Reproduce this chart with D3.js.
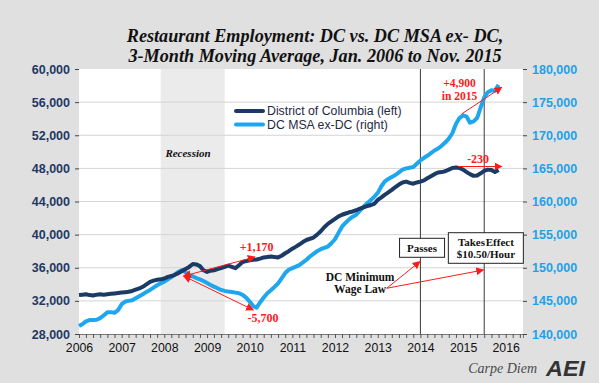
<!DOCTYPE html>
<html>
<head>
<meta charset="utf-8">
<script src="https://cdn.jsdelivr.net/npm/d3@7"></script>
<style>
  body { margin: 0; background: #e0e0e0; }
  svg { display: block; }
</style>
</head>
<body>
<svg id="chart" width="599" height="383"></svg>
<script>
// monthly, Jan 2006 .. Nov 2015
const months = d3.timeMonth.range(new Date(2006, 0, 1), new Date(2015, 11, 1));

const dcValues = [
  32700, 32750, 32800, 32700, 32650, 32750, 32800, 32750, 32800, 32850, 32900, 32950, // 2006
  33000, 33050, 33100, 33200, 33350, 33500, 33700, 34000, 34300, 34450, 34550, 34600, // 2007
  34700, 34900, 35000, 35150, 35350, 35600, 35850, 36100, 36450, 36400, 36200, 35700, // 2008
  35500, 35650, 35700, 35850, 35950, 36100, 36250, 36100, 35950, 36300, 36700, 36800, // 2009
  36900, 36950, 37000, 37100, 37250, 37300, 37350, 37300, 37250, 37450, 37750, 38000, // 2010
  38300, 38550, 38800, 39100, 39350, 39500, 39650, 40000, 40400, 40900, 41300, 41600, // 2011
  41900, 42200, 42400, 42550, 42700, 42800, 42950, 43150, 43300, 43450, 43550, 43700, // 2012
  44200, 44500, 44800, 45100, 45400, 45750, 46050, 46300, 46400, 46250, 46150, 46300, // 2013
  46400, 46550, 46800, 47050, 47300, 47500, 47550, 47650, 47850, 48050, 48100, 48050, // 2014
  47850, 47550, 47300, 47100, 47150, 47400, 47700, 47850, 47800, 47550, 47800         // 2015
];

const msaValues = [
  141200, 141500, 141900, 142100, 142100, 142150, 142400, 142800, 143300, 143300, 143200, 143600, // 2006
  144500, 144900, 145000, 145100, 145400, 145700, 146000, 146350, 146650, 147000, 147350, 147650, // 2007
  147900, 148250, 148600, 149000, 149400, 149650, 149300, 148900, 148700, 148450, 148250, 148000, // 2008
  147700, 147400, 147150, 146900, 146650, 146500, 146400, 146350, 146250, 146150, 145900, 145500, // 2009
  144900, 144200, 143970, 144800, 145500, 146150, 146600, 147100, 147650, 148400, 149200, 149700, // 2010
  149950, 150170, 150400, 150800, 151200, 151700, 152100, 152500, 152800, 153000, 153200, 153700, // 2011
  154300, 155300, 156200, 156800, 157300, 157700, 158000, 158600, 159200, 159700, 160200, 160700, // 2012
  161300, 162300, 163000, 163400, 163700, 164000, 164400, 164800, 165000, 165100, 165200, 165700, // 2013
  166200, 166600, 166900, 167300, 167700, 168000, 168400, 168900, 169500, 170300, 171700, 172600, // 2014
  173000, 172800, 171900, 172100, 172600, 174200, 175700, 176500, 176800, 176700, 177600          // 2015
];

const leftTicks = [28000, 32000, 36000, 40000, 44000, 48000, 52000, 56000, 60000];
const rightTicks = [140000, 145000, 150000, 155000, 160000, 165000, 170000, 175000, 180000];
const recession = [new Date(2007, 11, 1), new Date(2009, 5, 1)];
const lawDates = [new Date(2014, 0, 1), new Date(2015, 6, 1)];
const seriesNames = ['District of Columbia (left)', 'DC MSA ex-DC (right)'];

const dcColor = '#1b3a66', msaColor = '#1ea6ef', red = '#ff1a1a';
const serif = "Georgia, 'Liberation Serif', serif";
const sans = "Arial, 'Liberation Sans', sans-serif";

const margin = { top: 69, right: 76, bottom: 49, left: 79 };
const W = 599, H = 383;
const svg = d3.select('#chart');

const x = d3.scaleTime()
  .domain([new Date(2006, 0, 1), new Date(2016, 4, 28)])
  .range([margin.left, W - margin.right]);
const yL = d3.scaleLinear().domain([28000, 60000]).range([H - margin.bottom, margin.top]);
const yR = d3.scaleLinear().domain([140000, 180000]).range([H - margin.bottom, margin.top]);

// title
svg.append('text')
  .attr('x', 315).attr('y', 0)
  .attr('text-anchor', 'middle')
  .style('font-family', serif).style('font-weight', 'bold').style('font-style', 'italic')
  .style('font-size', '18.2px').attr('fill', '#111')
  .selectAll('tspan')
  .data(['Restaurant Employment: DC vs. DC MSA ex- DC,', '3-Month Moving Average, Jan. 2006 to Nov. 2015'])
  .join('tspan')
  .attr('x', 315).attr('y', (d, i) => 42 + i * 20)
  .text(d => d);

// plot background
svg.append('rect')
  .attr('x', margin.left).attr('y', margin.top)
  .attr('width', W - margin.left - margin.right)
  .attr('height', H - margin.top - margin.bottom)
  .attr('fill', '#fff');

svg.append('rect')
  .attr('x', x(recession[0])).attr('y', margin.top)
  .attr('width', x(recession[1]) - x(recession[0]))
  .attr('height', H - margin.top - margin.bottom)
  .attr('fill', '#ebebeb');

// gridlines
svg.append('g')
  .selectAll('line')
  .data(leftTicks.slice(1, -1))
  .join('line')
  .attr('x1', margin.left).attr('x2', W - margin.right)
  .attr('y1', d => yL(d)).attr('y2', d => yL(d))
  .attr('stroke', '#d4d4d4').attr('stroke-width', 1);

// law lines
svg.append('g')
  .selectAll('line')
  .data(lawDates)
  .join('line')
  .attr('x1', d => x(d)).attr('x2', d => x(d))
  .attr('y1', margin.top).attr('y2', H - margin.bottom)
  .attr('stroke', '#3a3a3a').attr('stroke-width', 1);

// axes
const xAxis = svg.append('g')
  .attr('transform', `translate(0,${H - margin.bottom})`)
  .call(d3.axisBottom(x)
    .tickValues(d3.timeMonth.every(2).range(new Date(2006, 0, 1), new Date(2016, 5, 1)))
    .tickSize(4).tickPadding(5)
    .tickFormat(d => d.getMonth() === 0 ? d.getFullYear() : ''));
xAxis.select('.domain').attr('stroke', '#7a7a7a');
xAxis.selectAll('.tick line').attr('stroke', '#555');
xAxis.selectAll('text').style('font-family', sans).style('font-size', '12.3px').attr('fill', '#111');

const leftAxis = svg.append('g')
  .attr('transform', `translate(${margin.left},0)`)
  .call(d3.axisLeft(yL).tickValues(leftTicks).tickFormat(d3.format(',')).tickSize(4).tickPadding(5));
leftAxis.select('.domain').remove();
leftAxis.selectAll('.tick line').attr('stroke', '#444');
leftAxis.selectAll('text').style('font-family', sans).style('font-size', '12.5px')
  .style('font-weight', 'bold').attr('fill', '#1f3864');

const rightAxis = svg.append('g')
  .attr('transform', `translate(${W - margin.right},0)`)
  .call(d3.axisRight(yR).tickValues(rightTicks).tickFormat(d3.format(',')).tickSize(4).tickPadding(5));
rightAxis.select('.domain').remove();
rightAxis.selectAll('.tick line').attr('stroke', '#444');
rightAxis.selectAll('text').style('font-family', sans).style('font-size', '12.5px')
  .style('font-weight', 'bold').attr('fill', '#1da1ea');

// series
const lineL = d3.line().x((d, i) => x(months[i])).y(d => yL(d));
const lineR = d3.line().x((d, i) => x(months[i])).y(d => yR(d));

svg.append('path').datum(msaValues)
  .attr('d', lineR).attr('fill', 'none')
  .attr('stroke', msaColor).attr('stroke-width', 4).attr('stroke-linejoin', 'round');
svg.append('path').datum(dcValues)
  .attr('d', lineL).attr('fill', 'none')
  .attr('stroke', dcColor).attr('stroke-width', 4).attr('stroke-linejoin', 'round');

// legend
const legend = svg.append('g').selectAll('g')
  .data(seriesNames)
  .join('g')
  .attr('transform', (d, i) => `translate(236,${111 + i * 13.6})`);
legend.append('line')
  .attr('x1', 0).attr('x2', 27)
  .attr('stroke', (d, i) => i === 0 ? dcColor : msaColor)
  .attr('stroke-width', 4).attr('stroke-linecap', 'round');
legend.append('text')
  .attr('x', 31).attr('dy', '0.35em')
  .style('font-family', sans).style('font-size', '12.3px').attr('fill', '#1f2a44')
  .text(d => d);

// annotations
svg.append('defs').append('marker')
  .attr('id', 'arrow').attr('viewBox', '0 0 10 10')
  .attr('refX', 9).attr('refY', 5)
  .attr('markerWidth', 8).attr('markerHeight', 8)
  .attr('markerUnits', 'userSpaceOnUse')
  .attr('orient', 'auto-start-reverse')
  .append('path').attr('d', 'M0,0 L10,5 L0,10 Z').attr('fill', red);

const pt = (date, v) => [x(new Date(date)), yL(v)];

const arrows = [
  { from: ['2008-06-15', 35000], to: ['2010-02-15', 37300], both: true },
  { from: ['2008-06-15', 35000], to: ['2010-02-01', 30900], both: true },
  { from: ['2014-12-20', 54565], to: ['2015-11-28', 57790] },
  { from: ['2014-11-20', 48226], to: ['2015-11-28', 48226] },
  { from: ['2013-03-18', 33520], to: ['2013-12-29', 36750] },
  { from: ['2013-03-18', 33520], to: ['2015-06-25', 35730] }
];
svg.append('g').selectAll('line')
  .data(arrows)
  .join('line')
  .attr('x1', d => pt(...d.from)[0]).attr('y1', d => pt(...d.from)[1])
  .attr('x2', d => pt(...d.to)[0]).attr('y2', d => pt(...d.to)[1])
  .attr('stroke', red).attr('stroke-width', 1)
  .attr('marker-end', 'url(#arrow)')
  .attr('marker-start', d => d.both ? 'url(#arrow)' : null);

const labels = [
  { at: ['2008-07-22', 49370], text: 'Recession', color: '#111', italic: true, size: 11 },
  { at: ['2010-03-01', 38080], text: '+1,170', color: red, size: 12 },
  { at: ['2010-04-25', 29390], text: '-5,700', color: red, size: 12 },
  { at: ['2014-12-01', 57850], text: '+4,900', color: red, size: 11.5 },
  { at: ['2014-12-01', 56250], text: 'in 2015', color: red, size: 11.5 },
  { at: ['2015-05-10', 48590], text: '-230', color: red, size: 12 },
  { at: ['2012-08-03', 34400], text: 'DC Minimum', color: '#111', size: 11.5 },
  { at: ['2012-08-03', 32950], text: 'Wage Law', color: '#111', size: 11.5 }
];
svg.append('g').selectAll('text')
  .data(labels)
  .join('text')
  .attr('x', d => pt(...d.at)[0]).attr('y', d => pt(...d.at)[1])
  .attr('text-anchor', 'middle')
  .style('font-family', serif).style('font-weight', 'bold')
  .style('font-style', d => d.italic ? 'italic' : 'normal')
  .style('font-size', d => d.size + 'px')
  .attr('fill', d => d.color)
  .text(d => d.text);

const boxes = [
  { at: ['2014-01-15', 38410], w: 45, h: 19, lines: ['Passes'] },
  { at: ['2015-07-15', 38385], w: 75, h: 30.6, lines: ['Takes Effect', '$10.50/Hour'] }
];
const box = svg.append('g').selectAll('g')
  .data(boxes)
  .join('g')
  .attr('transform', d => `translate(${pt(...d.at)[0]},${pt(...d.at)[1]})`);
box.append('rect')
  .attr('x', d => -d.w / 2).attr('y', d => -d.h / 2)
  .attr('width', d => d.w).attr('height', d => d.h)
  .attr('fill', '#fff').attr('stroke', '#222').attr('stroke-width', 1);
box.selectAll('text')
  .data(d => d.lines.map((t, i) => ({ t, i, n: d.lines.length })))
  .join('text')
  .attr('y', d => (d.i - (d.n - 1) / 2) * 11.5)
  .attr('dy', '0.35em')
  .attr('text-anchor', 'middle')
  .style('font-family', serif).style('font-weight', 'bold').style('font-size', '11px')
  .style('word-spacing', '-2px')
  .attr('fill', '#111')
  .text(d => d.t);

// footer
svg.append('text')
  .attr('x', 537).attr('y', 373).attr('text-anchor', 'end')
  .style('font-family', serif).style('font-style', 'italic').style('font-size', '14px')
  .attr('fill', '#4a4a4a')
  .text('Carpe Diem');
svg.append('text')
  .attr('x', 546).attr('y', 376)
  .attr('textLength', 39).attr('lengthAdjust', 'spacingAndGlyphs')
  .style('font-family', sans).style('font-style', 'italic').style('font-weight', 'bold').style('font-size', '22px')
  .attr('fill', '#333')
  .text('AEI');
</script>
</body>
</html>
